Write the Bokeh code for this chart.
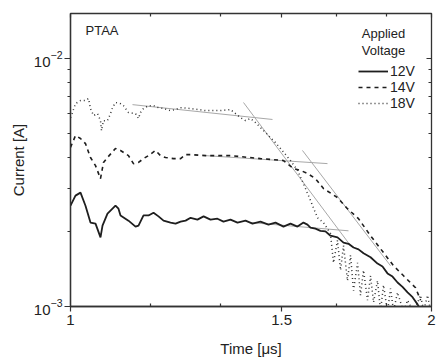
from bokeh.plotting import figure
from bokeh.models import (FixedTicker, LogAxis, Label, Legend, LegendItem,
                          CustomJSTickFormatter)
from bokeh.embed import file_html
from bokeh.resources import INLINE

FONT = "Liberation Sans"

# ---- data (time in microseconds, current in A) ----
t_12v = [1.000, 1.0096, 1.0194, 1.0292, 1.0391, 1.0492, 1.0593, 1.0634, 1.0736, 1.0902,
         1.0965, 1.1008, 1.1177, 1.1330, 1.1395, 1.1505, 1.1616, 1.1728, 1.1841, 1.1956,
         1.2118, 1.2235, 1.2354, 1.2473, 1.2594, 1.2760, 1.2912, 1.3084, 1.3260, 1.3414,
         1.3596, 1.3780, 1.3994, 1.4183, 1.4402, 1.4625, 1.4823, 1.5052, 1.5256, 1.5462,
         1.5641, 1.5761, 1.5852, 1.6005, 1.6160, 1.6316, 1.6474, 1.6697, 1.6891, 1.7054,
         1.7219, 1.7385, 1.7553, 1.7791, 1.8031, 1.8205, 1.8380, 1.8558, 1.8737, 1.8917,
         1.9101, 1.9286, 1.9472, 1.9585]
i_12v = [2.55e-3, 2.80e-3, 2.88e-3, 2.55e-3, 2.18e-3, 2.16e-3, 1.90e-3, 2.12e-3, 2.37e-3, 2.55e-3,
         2.48e-3, 2.33e-3, 2.22e-3, 2.10e-3, 2.12e-3, 2.33e-3, 2.33e-3, 2.39e-3, 2.31e-3, 2.22e-3,
         2.18e-3, 2.16e-3, 2.20e-3, 2.22e-3, 2.28e-3, 2.24e-3, 2.31e-3, 2.24e-3, 2.26e-3, 2.20e-3,
         2.24e-3, 2.18e-3, 2.22e-3, 2.16e-3, 2.20e-3, 2.14e-3, 2.18e-3, 2.10e-3, 2.16e-3, 2.10e-3,
         2.18e-3, 2.14e-3, 2.08e-3, 2.06e-3, 2.02e-3, 2.01e-3, 1.93e-3, 1.90e-3, 1.81e-3, 1.79e-3,
         1.73e-3, 1.70e-3, 1.64e-3, 1.58e-3, 1.49e-3, 1.45e-3, 1.36e-3, 1.32e-3, 1.25e-3, 1.20e-3,
         1.14e-3, 1.09e-3, 1.02e-3, 0.97e-3]

t_14v = [1.000, 1.0096, 1.0194, 1.0292, 1.0391, 1.0492, 1.0593, 1.0654, 1.0736, 1.0902,
         1.1008, 1.1177, 1.1285, 1.1395, 1.1505, 1.1616, 1.1773, 1.1887, 1.2002, 1.2188,
         1.2354, 1.2473, 1.2594, 1.2962, 1.3596, 1.4402, 1.5052, 1.5344, 1.5551, 1.5761,
         1.6005, 1.6254, 1.6697, 1.7021, 1.7385, 1.7791, 1.8135, 1.8594, 1.8955, 1.9398,
         1.9585]
i_14v = [4.38e-3, 4.89e-3, 4.76e-3, 4.54e-3, 3.99e-3, 3.70e-3, 3.28e-3, 3.81e-3, 3.99e-3, 4.34e-3,
         4.26e-3, 4.06e-3, 3.77e-3, 3.81e-3, 3.95e-3, 4.06e-3, 4.26e-3, 4.06e-3, 3.99e-3, 3.95e-3,
         3.95e-3, 4.10e-3, 4.10e-3, 4.06e-3, 4.06e-3, 3.95e-3, 3.88e-3, 3.60e-3, 3.54e-3, 3.44e-3,
         3.28e-3, 2.99e-3, 2.75e-3, 2.48e-3, 2.26e-3, 1.93e-3, 1.71e-3, 1.46e-3, 1.33e-3, 1.19e-3,
         1.06e-3]

t_18v = [1.000, 1.0038, 1.0096, 1.0194, 1.0292, 1.0352, 1.0391, 1.0452, 1.0532, 1.0593,
         1.0613, 1.0654, 1.0736, 1.0798, 1.0840, 1.0902, 1.1008, 1.1071, 1.1177, 1.1330,
         1.1395, 1.1439, 1.1505, 1.1616, 1.1728, 1.1841, 1.1956, 1.2118, 1.2235, 1.2354,
         1.2594, 1.2962, 1.3337, 1.3596, 1.3860, 1.3994, 1.4128, 1.4264, 1.4402, 1.4541,
         1.4681, 1.4823, 1.4966, 1.5256, 1.5462, 1.5641, 1.5852, 1.6067, 1.6254, 1.6474,
         1.6569, 1.6697, 1.6794, 1.6891, 1.7021, 1.7120, 1.7219, 1.7352, 1.7451, 1.7553,
         1.7688, 1.7791, 1.7894, 1.8031, 1.8135, 1.8240, 1.8380, 1.8487, 1.8594, 1.8737,
         1.8955, 1.9101, 1.9323, 1.9585, 1.9699, 1.9850, 1.9965]
i_18v = [5.78e-3, 6.06e-3, 6.58e-3, 6.77e-3, 6.77e-3, 6.90e-3, 6.29e-3, 5.89e-3, 6.00e-3, 5.62e-3,
         5.12e-3, 5.62e-3, 5.62e-3, 6.00e-3, 6.34e-3, 6.65e-3, 6.58e-3, 6.46e-3, 6.06e-3, 6.00e-3,
         5.73e-3, 6.06e-3, 6.29e-3, 6.46e-3, 6.46e-3, 6.34e-3, 6.29e-3, 6.17e-3, 6.23e-3, 6.34e-3,
         6.29e-3, 6.17e-3, 6.17e-3, 6.23e-3, 5.78e-3, 5.62e-3, 5.73e-3, 5.52e-3, 5.27e-3, 5.03e-3,
         4.80e-3, 4.58e-3, 4.34e-3, 3.88e-3, 3.54e-3, 3.13e-3, 2.68e-3, 2.28e-3, 2.18e-3, 1.97e-3,
         1.50e-3, 1.85e-3, 1.40e-3, 1.76e-3, 1.27e-3, 1.61e-3, 1.16e-3, 1.50e-3, 1.11e-3, 1.40e-3,
         1.06e-3, 1.33e-3, 1.04e-3, 1.27e-3, 0.96e-3, 1.22e-3, 0.95e-3, 1.18e-3, 0.96e-3, 1.14e-3,
         0.95e-3, 1.06e-3, 0.95e-3, 1.11e-3, 0.96e-3, 1.11e-3, 0.96e-3]

# grey linear fits (start/end points)
fit_t = [[1.1264, 1.4738], [1.3940, 1.7120], [1.2962, 1.6379], [1.5611, 1.8487], [1.4128, 1.7054]]
fit_i = [[6.52e-3, 5.68e-3], [6.65e-3, 1.76e-3], [4.06e-3, 3.77e-3], [4.26e-3, 1.46e-3], [2.18e-3, 2.02e-3]]

x_ticks = [1.0, 1.5, 2.0]
x_minor = [7 / 6, 8 / 6, 10 / 6, 11 / 6]
y_ticks = [1e-3, 1e-2]
y_minor = [2e-3, 3e-3, 4e-3, 5e-3, 6e-3, 7e-3, 8e-3, 9e-3]

AX = "#333333"

p = figure(width=437, height=360, x_axis_type="log", y_axis_type="log",
           x_range=(1.0, 2.0), y_range=(1e-3, 1.52e-2),
           output_backend="svg", toolbar_location=None,
           min_border_left=70, min_border_right=6, min_border_top=13, min_border_bottom=54)
p.grid.visible = False
p.outline_line_color = AX
p.outline_line_width = 1.3
p.background_fill_color = "white"
p.border_fill_color = "white"

xt = FixedTicker(ticks=x_ticks, minor_ticks=x_minor)
yt = FixedTicker(ticks=y_ticks, minor_ticks=y_minor)
xfmt = CustomJSTickFormatter(code="return String(tick)")
blank = CustomJSTickFormatter(code="return ''")

for ax in p.xaxis:
    ax.ticker = xt
    ax.formatter = xfmt
    ax.axis_label = "Time [\u03bcs]"
    ax.major_tick_out = 5
    ax.major_tick_in = 0
    ax.minor_tick_out = 0
    ax.minor_tick_in = 3
    ax.major_label_standoff = 3
    ax.axis_label_standoff = 12
for ax in p.yaxis:
    ax.ticker = yt
    ax.axis_label = "Current [A]"
    ax.major_tick_out = 6
    ax.major_tick_in = 0
    ax.minor_tick_out = 3
    ax.minor_tick_in = 0
    ax.major_label_standoff = 2
    ax.axis_label_standoff = 4
for ax in list(p.xaxis) + list(p.yaxis):
    ax.axis_line_color = AX
    ax.axis_line_width = 1.3
    ax.major_tick_line_color = AX
    ax.minor_tick_line_color = AX
    ax.major_tick_line_width = 1.2
    ax.minor_tick_line_width = 1.2
    ax.major_label_text_font = FONT
    ax.major_label_text_font_size = "15px"
    ax.major_label_text_color = "#222222"
    ax.axis_label_text_font = FONT
    ax.axis_label_text_font_size = "15px"
    ax.axis_label_text_font_style = "normal"
    ax.axis_label_text_color = "#222222"

# mirrored axes (ticks only)
top = LogAxis(ticker=xt, formatter=blank, major_tick_in=4, major_tick_out=0, minor_tick_in=3,
              minor_tick_out=0, major_label_standoff=0,
              axis_line_color=AX, major_tick_line_color=AX, minor_tick_line_color=AX,
              major_tick_line_width=1.2, minor_tick_line_width=1.2)
right = LogAxis(ticker=yt, formatter=blank, major_tick_in=5, major_tick_out=0, minor_tick_in=3,
                minor_tick_out=0, major_label_standoff=0,
                axis_line_color=AX, major_tick_line_color=AX, minor_tick_line_color=AX,
                major_tick_line_width=1.2, minor_tick_line_width=1.2)
p.add_layout(top, "above")
p.add_layout(right, "right")

# fit lines
p.multi_line(fit_t, fit_i, line_color="#a8a8a8", line_width=1)

r12 = p.line(t_12v, i_12v, line_color="#1e1e1e", line_width=1.8)
r14 = p.line(t_14v, i_14v, line_color="#1e1e1e", line_width=1.6, line_dash="4 4")
r18 = p.line(t_18v, i_18v, line_color="#333333", line_width=1.5, line_dash="1 3")

legend = Legend(items=[LegendItem(label="12V", renderers=[r12]),
                       LegendItem(label="14V", renderers=[r14]),
                       LegendItem(label="18V", renderers=[r18])],
                location=(288, 195), orientation="vertical",
                background_fill_alpha=0, border_line_color=None,
                padding=0, margin=0, spacing=0, glyph_width=30, glyph_height=16,
                label_height=16, label_standoff=2,
                label_text_font=FONT, label_text_font_size="14px", label_text_color="#222222")
p.add_layout(legend, "center")

for txt, y in [("Applied", 273), ("Voltage", 256)]:
    p.add_layout(Label(x=313, y=y, x_units="screen", y_units="screen", text=txt,
                       text_align="center", text_baseline="middle",
                       text_font=FONT, text_font_size="13px", text_color="#222222"))
p.add_layout(Label(x=15, y=276, x_units="screen", y_units="screen", text="PTAA",
                   text_align="left", text_baseline="middle",
                   text_font=FONT, text_font_size="13px", text_color="#222222"))

open("out.html", "w").write(file_html(p, INLINE))
